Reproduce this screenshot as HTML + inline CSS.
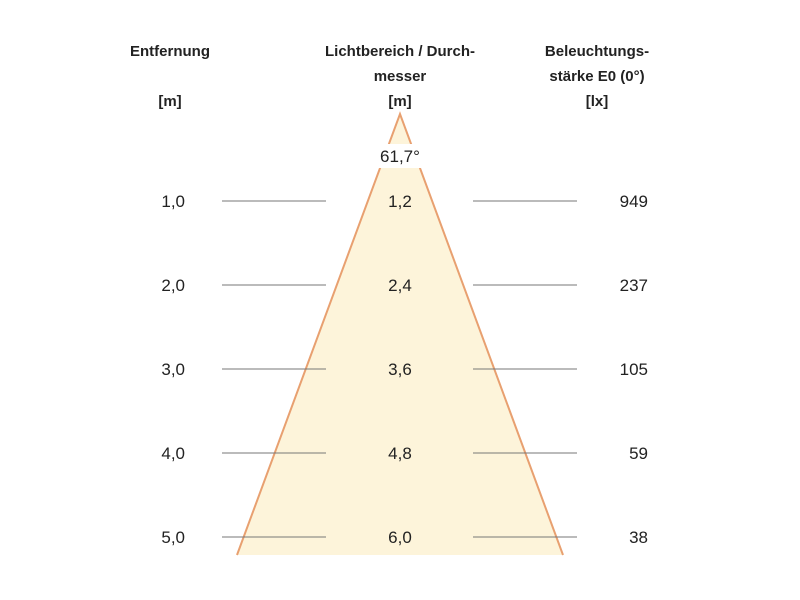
<!DOCTYPE html>
<html><head><meta charset="utf-8"><style>
body{margin:0;background:#fff}
svg{display:block}
text{font-family:"Liberation Sans",sans-serif;fill:#222}
.h{font-weight:bold;font-size:15px;text-anchor:middle}
.n{font-size:17px}
</style></head><body>
<svg width="800" height="600">
<g id="heads">
<text class="h" x="170" y="56">Entfernung</text>
<text class="h" x="170" y="106">[m]</text>
<text class="h" x="400" y="56">Lichtbereich / Durch-</text>
<text class="h" x="400" y="81">messer</text>
<text class="h" x="400" y="106">[m]</text>
<text class="h" x="597" y="56">Beleuchtungs-</text>
<text class="h" x="597" y="81">stärke E0 (0°)</text>
<text class="h" x="597" y="106">[lx]</text>
</g>
<polygon id="cone" points="400,114 237,555 563,555" fill="#fdf4da" stroke="none"/>
<polyline points="237,555 400,114 563,555" fill="none" stroke="#e8a070" stroke-width="2"/>
<rect x="362" y="144" width="76" height="24" fill="#fff"/>
<text class="n" x="400" y="162" text-anchor="middle">61,7°</text>
<g id="rows"></g>
</svg>
<script>
const distances=["1,0","2,0","3,0","4,0","5,0"];
const diameters=["1,2","2,4","3,6","4,8","6,0"];
const lux=["949","237","105","59","38"];
const ns="http://www.w3.org/2000/svg";
const g=document.getElementById('rows');
function rowY(i){return 201+i*84;}
function mk(tag,attrs,txt){const e=document.createElementNS(ns,tag);for(const k in attrs)e.setAttribute(k,attrs[k]);if(txt!==undefined)e.textContent=txt;g.appendChild(e);return e;}
distances.forEach((d,i)=>{
 const y=rowY(i);
 let e=mk('line',{x1:222,x2:326,y1:y,y2:y,stroke:'#777','stroke-width':1});
 
 
 e=mk('line',{x1:473,x2:577,y1:y,y2:y,stroke:'#777','stroke-width':1});
 
 
 e=mk('text',{class:'n',x:185,y:y+6,'text-anchor':'end'},d);
 
 
 e=mk('text',{class:'n',x:400,y:y+6,'text-anchor':'middle'},diameters[i]);
 
 
 e=mk('text',{class:'n',x:648,y:y+6,'text-anchor':'end'},lux[i]);
 
 
});
</script>
</body></html>
